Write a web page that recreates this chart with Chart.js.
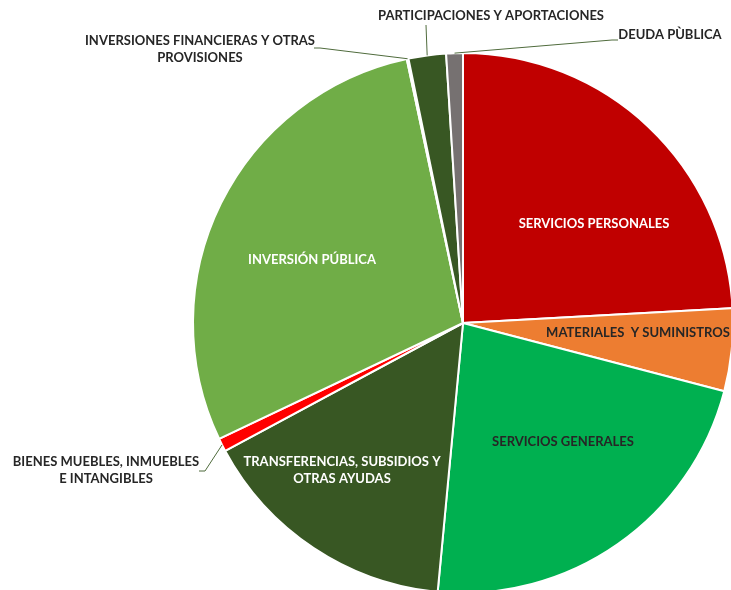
<!DOCTYPE html>
<html>
<head>
<meta charset="utf-8">
<script src="https://cdn.jsdelivr.net/npm/chart.js@4.4.0/dist/chart.umd.min.js"></script>
<style>
  html, body { margin: 0; padding: 0; background: #ffffff; }
</style>
</head>
<body>
<canvas id="presupuesto" width="731" height="590"></canvas>
<script>
// PRESUPUESTO POR CAPITULO DE GASTO
var categorias = [
    'SERVICIOS PERSONALES',
    'MATERIALES  Y SUMINISTROS',
    'SERVICIOS GENERALES',
    ['TRANSFERENCIAS, SUBSIDIOS Y', 'OTRAS AYUDAS'],
    ['BIENES MUEBLES, INMUEBLES', 'E INTANGIBLES'],
    'INVERSIÓN PÚBLICA',
    ['INVERSIONES FINANCIERAS Y OTRAS', 'PROVISIONES'],
    'PARTICIPACIONES Y APORTACIONES',
    'DEUDA PÙBLICA'
];
var porcentajes = [24.2, 4.95, 22.5, 15.7, 0.8, 28.8, 0.1, 2.25, 1.0];

var colores = ['#C00000', '#ED7D31', '#00B050', '#385723', '#FF0000', '#70AD47', '#A5A5A5', '#385723', '#767171'];

// donde va cada etiqueta, relativo al centro del pastel (px)
var posiciones = [
    { dx: 131, dy: -99, color: '#FFFFFF' },
    { dx: 175, dy: 10, color: '#262626' },
    { dx: 100, dy: 119, color: '#262626' },
    { dx: -121, dy: 139, color: '#FFFFFF' },
    { dx: -357, dy: 139, color: '#262626', linea: [[-258, 148], [-264, 148]] },
    { dx: -151, dy: -63, color: '#FFFFFF' },
    { dx: -263, dy: -282, color: '#262626', linea: [[-143, -275], [-149, -275]] },
    { dx: 28, dy: -307, color: '#262626', linea: [[-37, -298]] },
    { dx: 207, dy: -288, color: '#262626', linea: [[149, -283], [155, -283]] }
];

var etiquetas = {
    id: 'etiquetas',
    afterDatasetsDraw: function (chart) {
        var ctx = chart.ctx;
        var arcs = chart.getDatasetMeta(0).data;
        ctx.save();
        ctx.font = 'bold 13px Lato';
        ctx.textAlign = 'center';
        ctx.textBaseline = 'middle';
        arcs.forEach(function (arc, i) {
            var pos = posiciones[i];
            var cx = arc.x, cy = arc.y;
            if (pos.linea) {
                var mid = (arc.startAngle + arc.endAngle) / 2;
                ctx.beginPath();
                ctx.moveTo(cx + Math.cos(mid) * arc.outerRadius, cy + Math.sin(mid) * arc.outerRadius);
                pos.linea.forEach(function (p) {
                    ctx.lineTo(cx + p[0], cy + p[1]);
                });
                ctx.strokeStyle = '#4F6B3C';
                ctx.lineWidth = 1;
                ctx.stroke();
            }
            var lineas = [].concat(categorias[i]);
            ctx.fillStyle = pos.color;
            lineas.forEach(function (t, k) {
                ctx.fillText(t, cx + pos.dx, cy + pos.dy + k * 17);
            });
        });
        ctx.restore();
    }
};

var ctx = document.getElementById('presupuesto').getContext('2d');
var presupuesto = new Chart(ctx, {
    type: 'pie',
    data: {
        labels: categorias,
        datasets: [{
            data: porcentajes,
            backgroundColor: colores,
            borderColor: '#FFFFFF',
            borderWidth: 2,
            hoverOffset: 0
        }]
    },
    options: {
        responsive: false,
        animation: false,
        radius: 270,
        layout: {
            padding: { left: 195, top: 56, right: 0, bottom: 0 }
        },
        plugins: {
            legend: { display: false },
            tooltip: { enabled: false }
        }
    },
    plugins: [etiquetas]
});
</script>
</body>
</html>
